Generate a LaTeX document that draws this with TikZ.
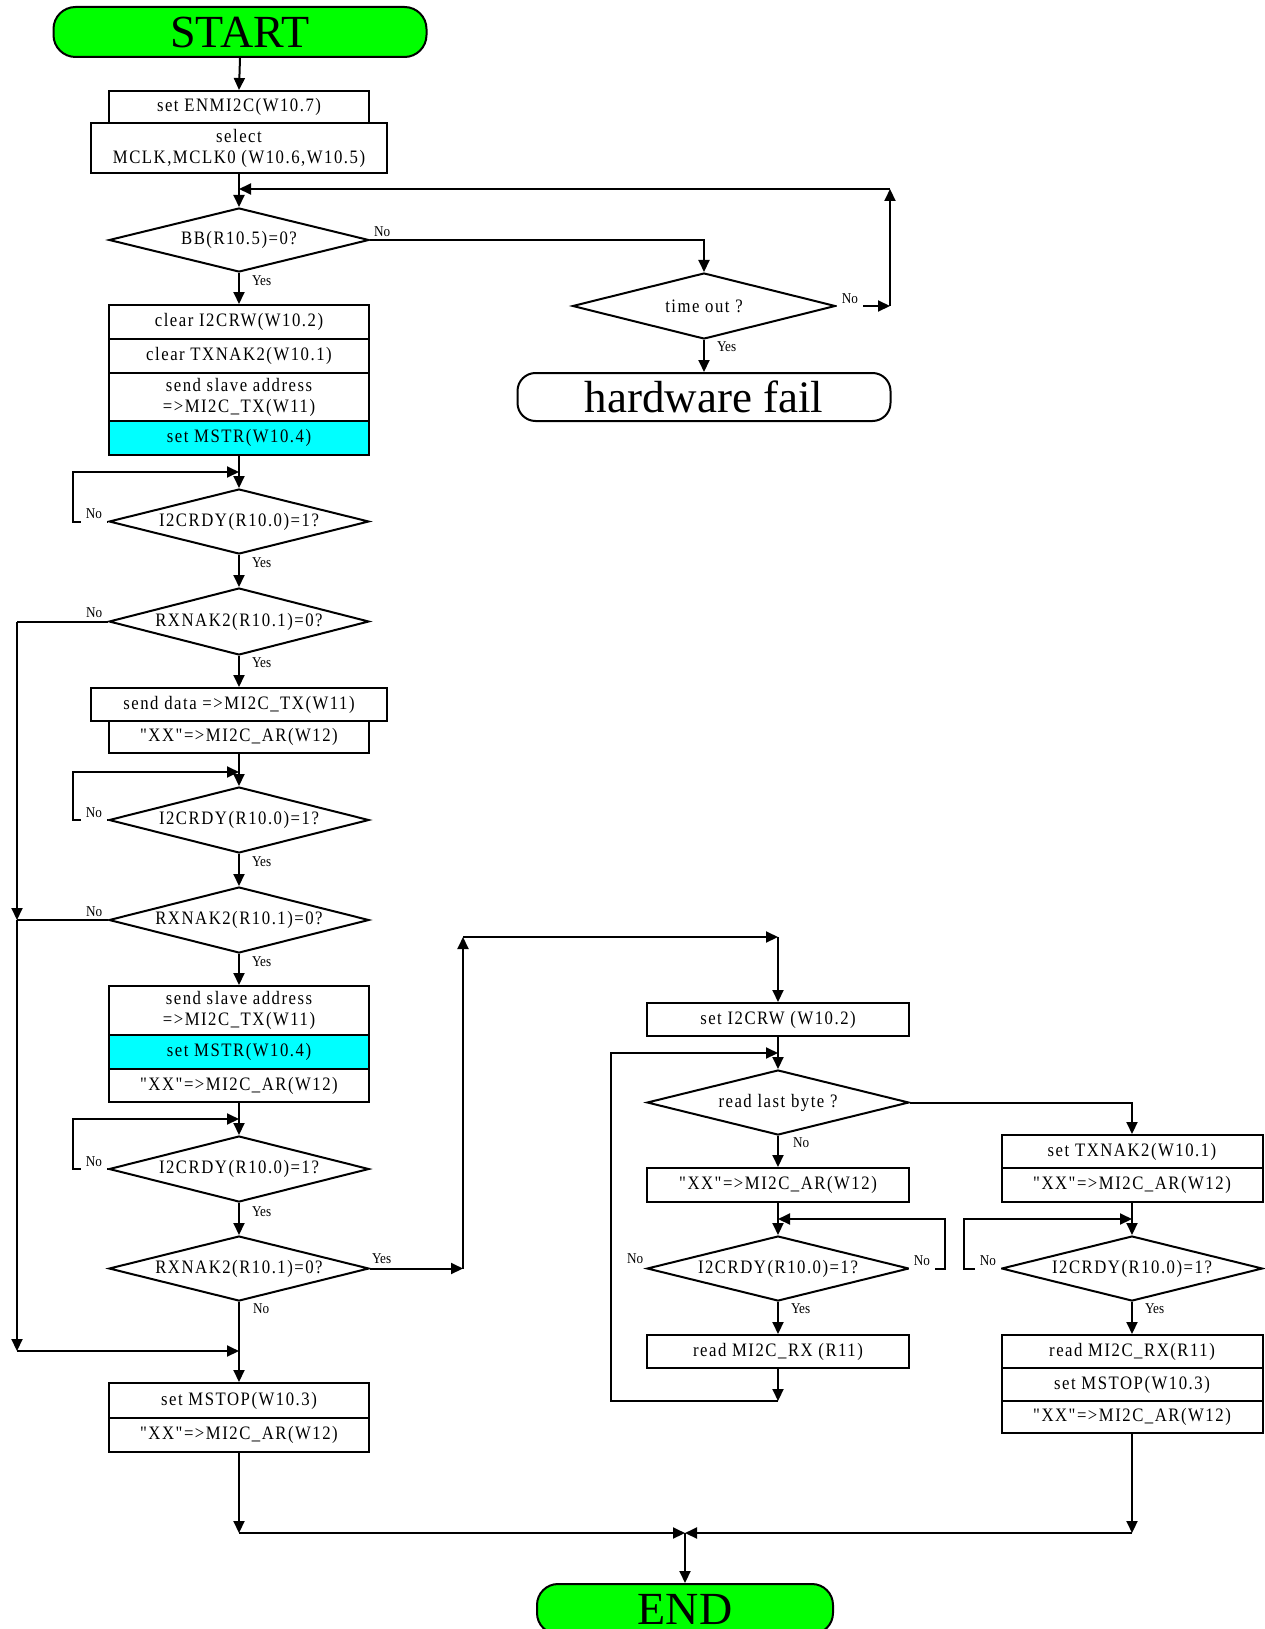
\documentclass[tikz,border=0pt]{standalone}
\usepackage{fontspec}
\setmainfont{Liberation Serif}
\newfontfamily\boxf[FakeStretch=0.88,LetterSpace=8]{Liberation Serif}
\newfontfamily\lblf[FakeStretch=0.88]{Liberation Serif}
\usetikzlibrary{arrows.meta,shapes.geometric}
\definecolor{gr}{RGB}{0,255,0}
\definecolor{cy}{RGB}{0,255,255}
\begin{document}
\begin{tikzpicture}[x=1pt,y=-1pt,line width=2pt,
  arw/.style={-{Triangle[length=12pt,width=11pt]}},
  box/.style={draw, rectangle, inner sep=0pt, minimum width=260pt, minimum height=33pt, align=center, font=\boxf\fontsize{19}{21}\selectfont},
  cbox/.style={box, fill=cy},
  dec/.style={draw, diamond, aspect=4, inner sep=0pt, minimum width=260pt, minimum height=65pt, font=\boxf\fontsize{19}{21}\selectfont},
  term/.style={draw, rectangle, rounded corners=22pt, inner sep=0pt, font=\fontsize{46}{46}\selectfont},
  lbl/.style={font=\lblf\fontsize{15}{15}\selectfont, inner sep=1pt},
  wlbl/.style={lbl, fill=white, inner xsep=5pt, inner ysep=4pt}
]
\useasboundingbox (0,0) rectangle (1265,1629);
\clip (0,0) rectangle (1265,1629);

% ---- left column ----
\node[term, fill=gr, minimum width=373pt, minimum height=50pt] (start) at (240,32) {START};
\node[box, minimum height=32pt] (b1) at (239,107) {set ENMI2C(W10.7)};
\node[box, minimum width=296pt, minimum height=50pt] (b2) at (239,148) {select\\MCLK,MCLK0 (W10.6,W10.5)};
\node[dec, minimum height=64pt] (d1) at (239,240) {BB(R10.5)=0?};
\node[dec, minimum width=263pt, minimum height=66pt] (dt) at (704,306) {time out ?};
\node[term, minimum width=373pt, minimum height=48pt, rounded corners=18pt, font=\fontsize{45}{45}\selectfont] (hw) at (704,397) {hardware fail};
\node[box, minimum height=34pt] (c1) at (239,322) {clear I2CRW(W10.2)};
\node[box, minimum height=34pt] (c2) at (239,356) {clear TXNAK2(W10.1)};
\node[box, minimum height=48pt] (c3) at (239,397) {send slave address\\=>MI2C\_TX(W11)};
\node[cbox, minimum height=34pt] (c4) at (239,438) {set MSTR(W10.4)};
\node[dec] (d2) at (239,521.5) {I2CRDY(R10.0)=1?};
\node[dec, minimum height=67pt] (d3) at (239,621.5) {RXNAK2(R10.1)=0?};
\node[box, minimum width=296pt] (e1) at (239,704.5) {send data =>MI2C\_TX(W11)};
\node[box, minimum height=32pt] (e2) at (239,737) {"XX"=>MI2C\_AR(W12)};
\node[dec, minimum height=66pt] (d4) at (239,820) {I2CRDY(R10.0)=1?};
\node[dec, minimum height=66pt] (d5) at (239,920) {RXNAK2(R10.1)=0?};
\node[box, minimum height=49pt] (f1) at (239,1010.5) {send slave address\\=>MI2C\_TX(W11)};
\node[cbox, minimum height=34pt] (f2) at (239,1052) {set MSTR(W10.4)};
\node[box] (f3) at (239,1085.5) {"XX"=>MI2C\_AR(W12)};
\node[dec, minimum height=66pt] (d6) at (239,1169) {I2CRDY(R10.0)=1?};
\node[dec] (d7) at (239,1268.5) {RXNAK2(R10.1)=0?};
\node[box, minimum height=35pt] (g1) at (239,1400.5) {set MSTOP(W10.3)};
\node[box, minimum height=34pt] (g2) at (239,1435) {"XX"=>MI2C\_AR(W12)};
\node[term, fill=gr, minimum width=296pt, minimum height=50pt, rounded corners=21pt] (end) at (685,1609) {END};

% ---- middle column ----
\node[box, minimum width=262pt] (m1) at (778,1019.5) {set I2CRW (W10.2)};
\node[dec, minimum width=262pt] (dm) at (778,1102.5) {read last byte ?};
\node[box, minimum width=262pt, minimum height=34pt] (m2) at (778,1185) {"XX"=>MI2C\_AR(W12)};
\node[dec, minimum width=262pt] (dm2) at (778,1268.5) {I2CRDY(R10.0)=1?};
\node[box, minimum width=262pt] (m3) at (778,1351.5) {read MI2C\_RX (R11)};

% ---- right column ----
\node[box, minimum width=261pt] (r1) at (1132,1151.5) {set TXNAK2(W10.1)};
\node[box, minimum width=261pt, minimum height=34pt] (r2) at (1132,1185) {"XX"=>MI2C\_AR(W12)};
\node[dec, minimum width=261pt] (dr) at (1132,1268.5) {I2CRDY(R10.0)=1?};
\node[box, minimum width=261pt] (r3) at (1132,1351.5) {read MI2C\_RX(R11)};
\node[box, minimum width=261pt] (r4) at (1132,1384.5) {set MSTOP(W10.3)};
\node[box, minimum width=261pt, minimum height=32pt] (r5) at (1132,1417) {"XX"=>MI2C\_AR(W12)};

% ---- bend points ----
\coordinate (tA) at (890,306);
\coordinate (tB) at (890,189);
\coordinate (tC) at (239,189);
\coordinate (l2a) at (73,521.5);
\coordinate (l2b) at (73,472);
\coordinate (l2c) at (239,472);
\coordinate (l4a) at (73,820);
\coordinate (l4b) at (73,772);
\coordinate (l4c) at (239,772);
\coordinate (l6a) at (73,1169);
\coordinate (l6b) at (73,1119);
\coordinate (l6c) at (239,1119);
\coordinate (L1) at (17,621.5);
\coordinate (L2) at (17,920);
\coordinate (L3) at (17,1351);
\coordinate (L4) at (239,1351);
\coordinate (y1) at (463,1268.5);
\coordinate (y2) at (463,937);
\coordinate (y3) at (778,937);
\coordinate (e0) at (239,1533);
\coordinate (eM) at (685,1533);
\coordinate (eR) at (1132,1533);
\coordinate (k1) at (945,1268.5);
\coordinate (k2) at (945,1219);
\coordinate (k3) at (778,1219);
\coordinate (q1) at (778,1401);
\coordinate (q2) at (611,1401);
\coordinate (q3) at (611,1053);
\coordinate (q4) at (778,1053);
\coordinate (p1) at (964,1268.5);
\coordinate (p2) at (964,1219);
\coordinate (p3) at (1132,1219);

% ---- connectors ----
\draw[arw] (start.south) -- (b1.north);
\draw[arw] (b2.south) -- (d1.north);
\draw[arw] (d1.east) -| (dt.north);
\draw[arw] (dt.east) -- (tA);
\draw[arw] (tA) -- (tB);
\draw[arw] (tB) -- (tC);
\draw[arw] (dt.south) -- (hw.north);
\draw[arw] (d1.south) -- (c1.north);
\draw[arw] (c4.south) -- (d2.north);
\draw[arw] (d2.west) -- (l2a) -- (l2b) -- (l2c);
\draw[arw] (d2.south) -- (d3.north);
\draw (d3.west) -- (L1);
\draw[arw] (L1) -- (L2);
\draw[arw] (d3.south) -- (e1.north);
\draw[arw] (e2.south) -- (d4.north);
\draw[arw] (d4.west) -- (l4a) -- (l4b) -- (l4c);
\draw[arw] (d4.south) -- (d5.north);
\draw (d5.west) -- (L2);
\draw[arw] (L2) -- (L3);
\draw[arw] (L3) -- (L4);
\draw[arw] (d5.south) -- (f1.north);
\draw[arw] (f3.south) -- (d6.north);
\draw[arw] (d6.west) -- (l6a) -- (l6b) -- (l6c);
\draw[arw] (d6.south) -- (d7.north);
\draw[arw] (d7.east) -- (y1);
\draw[arw] (y1) -- (y2);
\draw[arw] (y2) -- (y3);
\draw[arw] (y3) -- (m1.north);
\draw[arw] (d7.south) -- (g1.north);
\draw[arw] (g2.south) -- (e0);
\draw[arw] (e0) -- (eM);
\draw[arw] (r5.south) -- (eR);
\draw[arw] (eR) -- (eM);
\draw[arw] (eM) -- (end.north);
\draw[arw] (m1.south) -- (dm.north);
\draw[arw] (dm.east) -| (r1.north);
\draw[arw] (dm.south) -- (m2.north);
\draw[arw] (m2.south) -- (dm2.north);
\draw[arw] (dm2.east) -- (k1) -- (k2) -- (k3);
\draw[arw] (dm2.south) -- (m3.north);
\draw[arw] (m3.south) -- (q1);
\draw[arw] (q1) -- (q2) -- (q3) -- (q4);
\draw[arw] (r2.south) -- (dr.north);
\draw[arw] (dr.west) -- (p1) -- (p2) -- (p3);
\draw[arw] (dr.south) -- (r3.north);

% ---- labels ----
\node[lbl, anchor=west] (n1) at (372,232) {No};
\node[lbl, anchor=west] (y1l) at (250,281) {Yes};
\node[wlbl] (n2) at (850,299) {No};
\node[lbl, anchor=west] (y2l) at (715,347) {Yes};
\node[wlbl] (n3) at (94,514) {No};
\node[lbl, anchor=west] (y3l) at (250,563) {Yes};
\node[lbl, anchor=west] (n4) at (84,613) {No};
\node[lbl, anchor=west] (y4l) at (250,663) {Yes};
\node[wlbl] (n5) at (94,813) {No};
\node[lbl, anchor=west] (y5l) at (250,862) {Yes};
\node[lbl, anchor=west] (n6) at (84,912) {No};
\node[lbl, anchor=west] (y6l) at (250,962) {Yes};
\node[wlbl] (n7) at (94,1162) {No};
\node[lbl, anchor=west] (y7l) at (250,1212) {Yes};
\node[lbl, anchor=west] (y8l) at (370,1259) {Yes};
\node[lbl, anchor=west] (n8) at (251,1309) {No};
\node[lbl, anchor=west] (n9) at (791,1143) {No};
\node[wlbl] (n10) at (922,1261) {No};
\node[lbl, anchor=west] (n11) at (625,1259) {No};
\node[lbl, anchor=west] (y9l) at (789,1309) {Yes};
\node[wlbl] (n12) at (988,1261) {No};
\node[lbl, anchor=west] (y10l) at (1143,1309) {Yes};
\end{tikzpicture}
\end{document}
